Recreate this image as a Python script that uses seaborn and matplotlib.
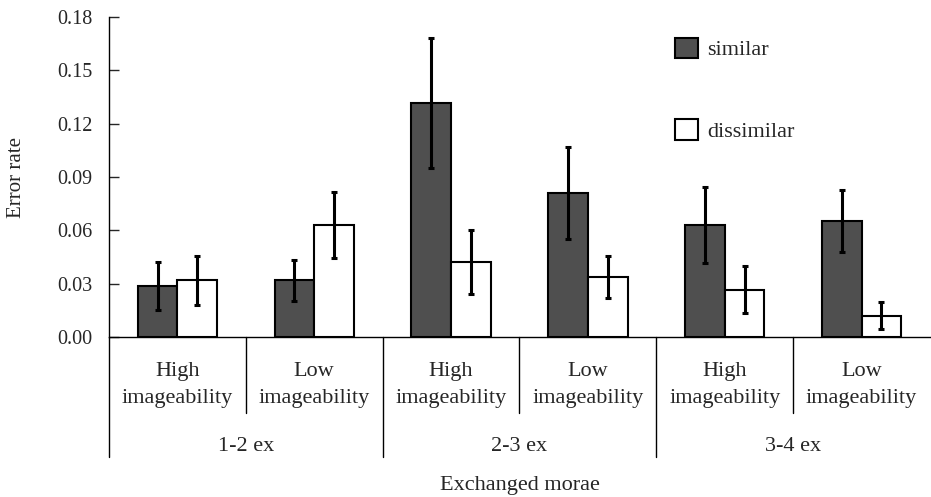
import pandas as pd
import seaborn as sns
import matplotlib.pyplot as plt
import matplotlib.transforms as mtransforms

# values
cells = ["1-2 High", "1-2 Low", "2-3 High", "2-3 Low", "3-4 High", "3-4 Low"]
cell_labels = ["High\nimageability", "Low\nimageability"] * 3
groups = ["1-2 ex", "2-3 ex", "3-4 ex"]
conditions = ["similar", "dissimilar"]

similar_rate = [0.0288, 0.0320, 0.1315, 0.0810, 0.0630, 0.0653]
similar_err = [0.0137, 0.0114, 0.0364, 0.0260, 0.0213, 0.0176]
dissimilar_rate = [0.0320, 0.0630, 0.0424, 0.0337, 0.0268, 0.0121]
dissimilar_err = [0.0136, 0.0184, 0.0179, 0.0119, 0.0130, 0.0076]

df = pd.DataFrame({
    "cell": cells * 2,
    "condition": ["similar"] * 6 + ["dissimilar"] * 6,
    "rate": similar_rate + dissimilar_rate,
})

sns.set_style("ticks")
plt.rcParams["font.family"] = ["Liberation Serif", "DejaVu Serif"]
plt.rcParams["font.size"] = 16

fig = plt.figure(figsize=(9.31, 4.97), dpi=100)
ax = fig.add_axes([109 / 931, 0.3213, 821 / 931, 0.6451])

sns.barplot(data=df, x="cell", y="rate", hue="condition", order=cells,
            hue_order=conditions,
            palette={"similar": "#4f4f4f", "dissimilar": "white"},
            edgecolor="black", linewidth=1.5, width=0.58, gap=0,
            errorbar=None, ax=ax)

# error bars on top of each bar
for cont, errs in zip(ax.containers, [similar_err, dissimilar_err]):
    xs = [b.get_x() + b.get_width() / 2 for b in cont]
    ys = [b.get_height() for b in cont]
    ax.errorbar(xs, ys, yerr=errs, fmt="none", ecolor="black",
                elinewidth=2.2, capsize=2.5, capthick=2.2, zorder=5)

ax.set_xlim(-0.5, 5.5)
ax.set_ylim(0, 0.18)
ax.set_yticks([0, 0.03, 0.06, 0.09, 0.12, 0.15, 0.18])
ax.set_yticklabels([f"{v:.2f}" for v in ax.get_yticks()])
ax.tick_params(axis="y", direction="in", length=7, width=1, pad=12,
               labelsize=14.5)
ax.set_xticks(range(6))
ax.set_xticklabels([""] * 6)
ax.tick_params(axis="x", length=0)

sns.despine(ax=ax)
for s in ["left", "bottom"]:
    ax.spines[s].set_linewidth(1)
    ax.spines[s].set_color("black")

# category labels and divider lines under the axis
trans = mtransforms.blended_transform_factory(ax.transData, ax.transAxes)
for i, lab in enumerate(cell_labels):
    ax.text(i, -0.148, lab, transform=trans, ha="center", va="center",
            fontsize=16, linespacing=1.6)
for x in [-0.5, 1.5, 3.5]:
    ax.plot([x, x], [0, -0.373], color="black", lw=1, transform=trans,
            clip_on=False)
for x in [0.5, 2.5, 4.5]:
    ax.plot([x, x], [0, -0.236], color="black", lw=1, transform=trans,
            clip_on=False)
for i, g in enumerate(groups):
    ax.text(2 * i + 0.5, -0.342, g, transform=trans, ha="center",
            va="center", fontsize=16)

ax.set_xlabel("Exchanged morae", fontsize=16, va="center")
ax.xaxis.set_label_coords(0.5, -0.461)
ax.set_ylabel("Error rate", fontsize=15, va="center")
ax.yaxis.set_label_coords(-0.113, 0.5)

sns.move_legend(ax, "upper left", bbox_to_anchor=(0.689, 0.935),
                frameon=False, title=None, labelspacing=2.65,
                handlelength=1.05, handleheight=1.05, borderpad=0,
                borderaxespad=0, handletextpad=0.4, fontsize=16)

fig.savefig("out.png", dpi=100)
